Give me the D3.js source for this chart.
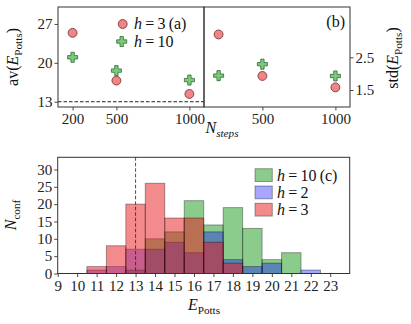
<!DOCTYPE html>
<meta charset="utf-8">
<style>
    body { margin: 0; background: #fff; }
    svg { font-family: "Liberation Serif", "DejaVu Serif", serif; }
    .axis path, .axis line { stroke: #333; }
    .axis text { font-size: 15px; fill: #222; font-family: "Liberation Serif", serif; }
</style>
<svg width="411" height="324">
    <rect fill="#fff" width="100%" height="100%"></rect>
</svg>
<script src="https://cdn.jsdelivr.net/npm/d3@7"></script>
<script>

    // top panels: N_steps on x
    var steps = [200, 500, 1000];
    var avH3 = [25.4, 16.8, 14.4];
    var avH10 = [21.0, 18.6, 16.9];
    var stdH3 = [3.20, 1.93, 1.58];
    var stdH10 = [1.94, 2.29, 1.93];
    var groundE = 13;

    // bottom panel: histogram counts per integer energy bin
    var energies = [11, 12, 13, 14, 15, 16, 17, 18, 19, 20, 21, 22];
    var countH10 = [0, 0, 1, 10, 12, 21, 14, 19, 13, 4, 6, 0];
    var countH2 = [1, 2, 7, 7, 9, 6, 12, 4, 2, 3, 0, 1];
    var countH3 = [2, 8, 20, 26, 16, 16, 9, 3, 0, 0, 0, 0];
    var energyTicks = d3.range(9, 24);
    var countTicks = [0, 5, 10, 15, 20, 25, 30];

    var svg = d3.select("svg");

    var xA = d3.scaleLinear().domain([100, 1100]).range([58, 204]);
    var xB = d3.scaleLinear().domain([100, 1100]).range([204, 350]);
    var yA = d3.scaleLinear().domain([12.05, 30.05]).range([107, 7]);
    var yB = d3.scaleLinear().domain([0.98, 4.04]).range([107, 7]);

    var xC = d3.scaleLinear().domain([9, 24]).range([57.7, 349.7]);
    var yC = d3.scaleLinear().domain([0, 33.5]).range([273.5, 157.3]);

    var red = "#ef8585", redEdge = "#6b2a2a";
    var green = "#7ccb7c", greenEdge = "#2f6a2f";

    function styleAxis(g)
    {
        g.attr("class", "axis");
        g.select(".domain").remove();
        g.selectAll("line").attr("stroke-width", 0.9);
    }

    // axes a
    svg.append("g").attr("transform", "translate(0,107)")
        .call(d3.axisBottom(xA).tickValues(steps).tickFormat(d3.format("d")).tickSize(3.5).tickPadding(3))
        .call(styleAxis);
    svg.append("g").attr("transform", "translate(58,0)")
        .call(d3.axisLeft(yA).tickValues([13, 20, 27]).tickSize(3.5).tickPadding(2))
        .call(styleAxis);

    // axes b
    svg.append("g").attr("transform", "translate(0,107)")
        .call(d3.axisBottom(xB).tickValues([500, 1000]).tickFormat(d3.format("d")).tickSize(3.5).tickPadding(3))
        .call(styleAxis);
    svg.append("g").attr("transform", "translate(350,0)")
        .call(d3.axisRight(yB).tickValues([1.5, 2.5]).tickFormat(d3.format(".1f")).tickSize(3.5).tickPadding(2))
        .call(styleAxis);

    // ground state line in a
    svg.append("line")
        .attr("x1", 58).attr("x2", 204)
        .attr("y1", yA(groundE)).attr("y2", yA(groundE))
        .attr("stroke", "#222").attr("stroke-width", 1).attr("stroke-dasharray", "3.5,2");

    var circle = d3.symbol().type(d3.symbolCircle).size(62);
    var plus = d3.symbol().type(d3.symbolCross).size(56);

    function drawPoints(xs, ys, vals, sym, fill, edge)
    {
        svg.append("g").selectAll("path").data(vals).join("path")
            .attr("d", sym)
            .attr("transform", function (d, i) { return "translate(" + xs(steps[i]) + "," + ys(d) + ")"; })
            .attr("fill", fill).attr("stroke", edge).attr("stroke-width", 0.8);
    }
    drawPoints(xA, yA, avH3, circle, red, redEdge);
    drawPoints(xA, yA, avH10, plus, green, greenEdge);
    drawPoints(xB, yB, stdH3, circle, red, redEdge);
    drawPoints(xB, yB, stdH10, plus, green, greenEdge);

    // frames top
    svg.append("rect").attr("x", 58).attr("y", 7).attr("width", 146).attr("height", 100)
        .attr("fill", "none").attr("stroke", "#333").attr("stroke-width", 1);
    svg.append("rect").attr("x", 204).attr("y", 7).attr("width", 146).attr("height", 100)
        .attr("fill", "none").attr("stroke", "#333").attr("stroke-width", 1);

    // helper for math-ish labels: parts = [text, italic?, sub?]
    function mathText(parent, x, y, parts, size, anchor, rotate)
    {
        var t = parent.append("text")
            .attr("x", x).attr("y", y)
            .attr("text-anchor", anchor || "start")
            .attr("font-size", size).attr("fill", "#111");
        if (rotate) t.attr("transform", "rotate(-90," + x + "," + y + ")");
        var prevSub = false;
        parts.forEach(function (p)
        {
            var s = t.append("tspan").text(p[0])
                .attr("font-style", p[1] ? "italic" : "normal");
            if (p[2])
            {
                s.attr("font-size", size * 0.7);
                if (!prevSub) s.attr("dy", size * 0.25);
            }
            else if (prevSub)
            {
                s.attr("dy", -size * 0.25);
            }
            prevSub = !!p[2];
        });
        return t;
    }

    // legend a
    svg.append("path").attr("d", circle).attr("transform", "translate(122.7,24)")
        .attr("fill", red).attr("stroke", redEdge).attr("stroke-width", 0.8);
    svg.append("path").attr("d", plus).attr("transform", "translate(121.7,41.5)")
        .attr("fill", green).attr("stroke", greenEdge).attr("stroke-width", 0.8);
    mathText(svg, 134, 29, [["h", true], ["\u2009=\u20093\u2009(a)", false]], 16);
    mathText(svg, 134, 46.5, [["h", true], ["\u2009=\u200910", false]], 16);
    mathText(svg, 345, 27, [["(b)", false]], 16, "end");

    // labels top
    mathText(svg, 18, 57, [["av(", false], ["E", true], ["Potts", false, true], [")", false]], 16, "middle", true);
    mathText(svg, 398, 58, [["std(", false], ["E", true], ["Potts", false, true], [")", false]], 16, "middle", true);
    mathText(svg, 222, 133, [["N", true], ["steps", true, true]], 16, "middle");

    // histogram
    var series = [
        {name: "10", counts: countH10, fill: "#2ca02c", op: 0.55},
        {name: "2", counts: countH2, fill: "#0000ff", op: 0.35},
        {name: "3", counts: countH3, fill: "#e8161a", op: 0.5}
    ];
    series.forEach(function (s)
    {
        svg.append("g").selectAll("rect").data(energies).join("rect")
            .filter(function (d, i) { return s.counts[i] > 0; })
            .attr("x", function (d) { return xC(d - 0.5); })
            .attr("width", xC(1) - xC(0))
            .attr("y", function (d) { return yC(s.counts[energies.indexOf(d)]); })
            .attr("height", function (d) { return yC(0) - yC(s.counts[energies.indexOf(d)]); })
            .attr("fill", s.fill).attr("fill-opacity", s.op)
            .attr("stroke", "#000").attr("stroke-opacity", 0.35).attr("stroke-width", 1);
    });

    svg.append("line")
        .attr("x1", xC(groundE)).attr("x2", xC(groundE))
        .attr("y1", 157.3).attr("y2", 273.5)
        .attr("stroke", "#222").attr("stroke-opacity", 0.8).attr("stroke-width", 1)
        .attr("stroke-dasharray", "3.5,2");

    svg.append("g").attr("transform", "translate(0,273.5)")
        .call(d3.axisBottom(xC).tickValues(energyTicks).tickSize(3.5).tickPadding(3))
        .call(styleAxis);
    svg.append("g").attr("transform", "translate(57.7,0)")
        .call(d3.axisLeft(yC).tickValues(countTicks).tickSize(3.5).tickPadding(2))
        .call(styleAxis);
    svg.append("rect").attr("x", 57.7).attr("y", 157.3).attr("width", 292).attr("height", 116.2)
        .attr("fill", "none").attr("stroke", "#333").attr("stroke-width", 1);

    // legend c
    var legY = [168.7, 186, 203.3];
    var legTxt = ["\u2009=\u200910\u2009(c)", "\u2009=\u20092", "\u2009=\u20093"];
    series.forEach(function (s, i)
    {
        svg.append("rect").attr("x", 255).attr("y", legY[i]).attr("width", 17.3).attr("height", 12.8)
            .attr("fill", s.fill).attr("fill-opacity", s.op)
            .attr("stroke", "#000").attr("stroke-opacity", 0.35);
        mathText(svg, 277, legY[i] + 12, [["h", true], [legTxt[i], false]], 16);
    });

    mathText(svg, 16, 215, [["N", true], ["conf", false, true]], 16, "middle", true);
    mathText(svg, 204, 310, [["E", true], ["Potts", false, true]], 16, "middle");

</script>
